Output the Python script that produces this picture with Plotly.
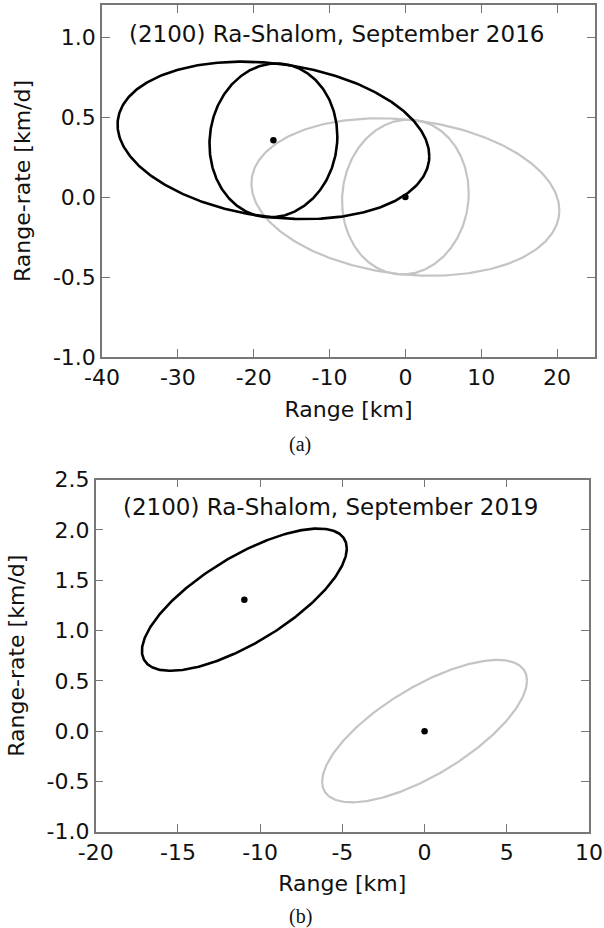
import numpy as np
import plotly.graph_objects as go

# ---------------- Panel (a): September 2016 ----------------
a_title = "(2100) Ra-Shalom, September 2016"
# uncertainty ellipses: centre, half-extent in range (km), half-extent in range-rate (km/d), correlation
a_ell_cx = [0.0, 0.0, -17.4, -17.4]
a_ell_cy = [0.0, 0.0, 0.354, 0.354]
a_ell_sx = [20.3, 8.35, 20.55, 8.43]
a_ell_sy = [0.492, 0.484, 0.492, 0.481]
a_ell_rho = [-0.17, 0.05, -0.2, 0.05]
a_ell_kind = ["prior", "prior", "fit", "fit"]
a_dot_x = [0.0, -17.4]
a_dot_y = [0.0, 0.354]
a_xticks = [-40, -30, -20, -10, 0, 10, 20]
a_xticklabels = ["-40", "-30", "-20", "-10", "0", "10", "20"]
a_yticks = [-1.0, -0.5, 0.0, 0.5, 1.0]
a_yticklabels = ["-1.0", "-0.5", "0.0", "0.5", "1.0"]

# ---------------- Panel (b): September 2019 ----------------
b_title = "(2100) Ra-Shalom, September 2019"
b_ell_cx = [0.0, -10.96]
b_ell_cy = [0.0, 1.307]
b_ell_sx = [6.23, 6.23]
b_ell_sy = [0.708, 0.707]
b_ell_rho = [0.71, 0.72]
b_ell_kind = ["prior", "fit"]
b_dot_x = [0.0, -10.96]
b_dot_y = [0.0, 1.307]
b_xticks = [-20, -15, -10, -5, 0, 5, 10]
b_xticklabels = ["-20", "-15", "-10", "-5", "0", "5", "10"]
b_yticks = [-1.0, -0.5, 0.0, 0.5, 1.0, 1.5, 2.0, 2.5]
b_yticklabels = ["-1.0", "-0.5", "0.0", "0.5", "1.0", "1.5", "2.0", "2.5"]

COLORS = {"prior": "#c4c4c4", "fit": "#000000"}
WIDTHS = {"prior": 2.2, "fit": 2.6}
FONT = "DejaVu Sans"
AXC = "#777777"

t = np.linspace(0, 2 * np.pi, 400)


def ellipse(cx, cy, sx, sy, rho):
    x = cx + sx * np.cos(t)
    y = cy + sy * (rho * np.cos(t) + np.sqrt(1 - rho ** 2) * np.sin(t))
    return x, y


fig = go.Figure()

def add_panel(cxs, cys, sxs, sys, rhos, kinds, dx, dy, xa, ya):
    order = sorted(range(len(kinds)), key=lambda i: 0 if kinds[i] == "prior" else 1)
    for i in order:
        x, y = ellipse(cxs[i], cys[i], sxs[i], sys[i], rhos[i])
        fig.add_trace(go.Scatter(x=x, y=y, mode="lines", xaxis=xa, yaxis=ya,
                                 line=dict(color=COLORS[kinds[i]], width=WIDTHS[kinds[i]]),
                                 showlegend=False, hoverinfo="skip"))
    fig.add_trace(go.Scatter(x=dx, y=dy, mode="markers", xaxis=xa, yaxis=ya,
                             marker=dict(color="black", size=6.5),
                             showlegend=False))

add_panel(a_ell_cx, a_ell_cy, a_ell_sx, a_ell_sy, a_ell_rho, a_ell_kind, a_dot_x, a_dot_y, "x", "y")
add_panel(b_ell_cx, b_ell_cy, b_ell_sx, b_ell_sy, b_ell_rho, b_ell_kind, b_dot_x, b_dot_y, "x2", "y2")

W, H = 604, 928

def axis_common():
    return dict(showline=True, linecolor=AXC, linewidth=1.5, mirror="ticks",
                ticks="inside", ticklen=8, tickwidth=1.2, tickcolor=AXC,
                showgrid=False, zeroline=False, tickfont=dict(family=FONT, size=22, color="#111"),
                title_font=dict(family=FONT, size=22, color="#111"), automargin=False,
                tickmode="array")

fig.update_layout(
    width=W, height=H, margin=dict(l=0, r=0, t=0, b=0),
    paper_bgcolor="white", plot_bgcolor="white", showlegend=False,
    xaxis=dict(**axis_common(), domain=[102 / W, 595 / W], range=[-40, 25], anchor="y",
               tickvals=a_xticks, ticktext=a_xticklabels,
               title=dict(text="Range [km]", standoff=12)),
    yaxis=dict(**axis_common(), domain=[1 - 357 / H, 1 - 5 / H], range=[-1.0, 1.2], anchor="x",
               tickvals=a_yticks, ticktext=a_yticklabels,
               title=dict(text="Range-rate [km/d]", standoff=16)),
    xaxis2=dict(**axis_common(), domain=[95.7 / W, 589 / W], range=[-20, 10], anchor="y2",
                tickvals=b_xticks, ticktext=b_xticklabels,
                title=dict(text="Range [km]", standoff=12)),
    yaxis2=dict(**axis_common(), domain=[1 - 831.7 / H, 1 - 479.7 / H], range=[-1.0, 2.5], anchor="x2",
                tickvals=b_yticks, ticktext=b_yticklabels,
                title=dict(text="Range-rate [km/d]", standoff=16)),
)

annots = [
    dict(text=a_title, xref="x domain", yref="y domain", x=25 / 493, y=1 - 29 / 352,
         xanchor="left", yanchor="middle", showarrow=False,
         font=dict(family=FONT, size=23, color="#111")),
    dict(text=b_title, xref="x2 domain", yref="y2 domain", x=25 / 493, y=1 - 27 / 352,
         xanchor="left", yanchor="middle", showarrow=False,
         font=dict(family=FONT, size=23, color="#111")),
    dict(text="(a)", xref="paper", yref="paper", x=300 / W, y=1 - 444 / H,
         xanchor="center", yanchor="middle", showarrow=False, borderpad=0,
         font=dict(family="Liberation Serif", size=20, color="#111")),
    dict(text="(b)", xref="paper", yref="paper", x=300 / W, y=1 - 916 / H,
         xanchor="center", yanchor="middle", showarrow=False, borderpad=0,
         font=dict(family="Liberation Serif", size=20, color="#111")),
]
fig.update_layout(annotations=annots)

fig.write_html("out.html")
